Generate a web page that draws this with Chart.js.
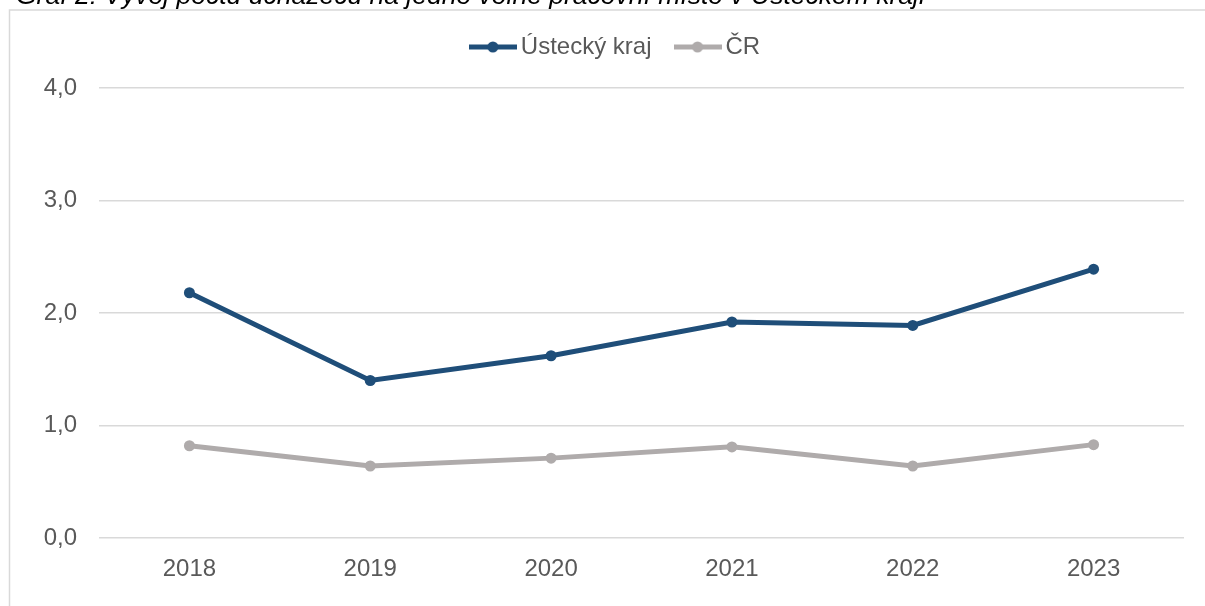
<!DOCTYPE html>
<html lang="cs">
<head>
<meta charset="utf-8">
<title>Graf 2</title>
<script src="https://cdn.jsdelivr.net/npm/chart.js@4/dist/chart.umd.min.js"></script>
<style>
    html, body { margin: 0; padding: 0; background: #fff; overflow: hidden; }
    .chart-box { position: relative; width: 1205px; height: 606px; }
</style>
</head>
<body>
<div class="chart-box"><canvas id="mainChart"></canvas></div>
<script>
// Chart data
const years = ['2018', '2019', '2020', '2021', '2022', '2023'];
const usteckyKraj = [2.18, 1.40, 1.62, 1.92, 1.89, 2.39];
const ceskaRepublika = [0.82, 0.64, 0.71, 0.81, 0.64, 0.83];
const yTicks = [0, 1, 2, 3, 4];

const titleText = 'Graf 2: Vývoj počtu uchazečů na jedno volné pracovní místo v Ústeckém kraji';
const fontFamily = '"Liberation Sans", Arial, sans-serif';
const textColor = '#595959';
const gridColor = '#d9d9d9';
const blue = '#1f4e79';
const gray = '#afabab';

// Legend icon: short line with a dot in the middle (like Excel)
function makeLegendIcon(color) {
    const c = document.createElement('canvas');
    c.width = 48;
    c.height = 12;
    const ctx = c.getContext('2d');
    ctx.strokeStyle = color;
    ctx.lineWidth = 5;
    ctx.beginPath();
    ctx.moveTo(0, 6);
    ctx.lineTo(48, 6);
    ctx.stroke();
    ctx.fillStyle = color;
    ctx.beginPath();
    ctx.arc(24, 6, 5.5, 0, Math.PI * 2);
    ctx.fill();
    return c;
}

// Frame + cut-off caption above the chart
const framePlugin = {
    id: 'frame',
    beforeDraw(chart) {
        const ctx = chart.ctx;
        ctx.save();
        ctx.strokeStyle = gridColor;
        ctx.lineWidth = 1.5;
        ctx.strokeRect(9.5, 10, 1400, 800);
        ctx.restore();
    },
    afterDraw(chart) {
        const ctx = chart.ctx;
        ctx.save();
        ctx.font = 'italic 26.5px ' + fontFamily;
        ctx.fillStyle = '#000';
        ctx.textBaseline = 'alphabetic';
        ctx.fillText(titleText, 16, 4);
        ctx.restore();
    }
};

// Legend: fixed height so the plot starts where the reference does,
// and nudged so it is centred like the original
const legendPlacePlugin = {
    id: 'legendPlace',
    beforeInit(chart) {
        const origFit = chart.legend.fit;
        chart.legend.fit = function () {
            origFit.bind(chart.legend)();
            this.height = 83;
        };
    },
    afterLayout(chart) {
        chart.legend.left = 53;
    }
};

const ctx = document.getElementById('mainChart');
const chart = new Chart(ctx, {
    type: 'line',
    data: {
        labels: years,
        datasets: [
            {
                label: 'Ústecký kraj',
                data: usteckyKraj,
                borderColor: blue,
                backgroundColor: blue,
                pointBackgroundColor: blue,
                pointBorderColor: blue,
                borderWidth: 5,
                pointRadius: 5.5,
                pointBorderWidth: 0,
                tension: 0
            },
            {
                label: 'ČR',
                data: ceskaRepublika,
                borderColor: gray,
                backgroundColor: gray,
                pointBackgroundColor: gray,
                pointBorderColor: gray,
                borderWidth: 5,
                pointRadius: 5.5,
                pointBorderWidth: 0,
                tension: 0
            }
        ]
    },
    options: {
        responsive: true,
        maintainAspectRatio: false,
        animation: false,
        devicePixelRatio: 1,
        layout: {
            padding: { left: 0, right: 21, top: 5, bottom: 0 }
        },
        plugins: {
            tooltip: { enabled: false },
            legend: {
                position: 'top',
                align: 'center',
                labels: {
                    color: textColor,
                    font: { family: fontFamily, size: 24 },
                    usePointStyle: true,
                    pointStyleWidth: 32,
                    padding: 30,
                    generateLabels(chart) {
                        const items = Chart.defaults.plugins.legend.labels.generateLabels(chart);
                        items.forEach(item => {
                            const ds = chart.data.datasets[item.datasetIndex];
                            item.pointStyle = makeLegendIcon(ds.borderColor);
                        });
                        return items;
                    }
                }
            }
        },
        scales: {
            x: {
                offset: true,
                grid: { display: false },
                border: { display: false },
                ticks: {
                    color: textColor,
                    font: { family: fontFamily, size: 24 },
                    padding: 9,
                    maxRotation: 0
                },
                afterFit(scale) { scale.height = 68; }
            },
            y: {
                min: 0,
                max: 4,
                grid: { color: gridColor, lineWidth: 1.5, drawTicks: false },
                border: { display: false },
                afterBuildTicks(scale) {
                    scale.ticks = yTicks.map(v => ({ value: v }));
                },
                ticks: {
                    color: textColor,
                    font: { family: fontFamily, size: 24 },
                    padding: 22,
                    callback: v => v.toFixed(1).replace('.', ',')
                },
                afterFit(scale) { scale.width = 99; }
            }
        }
    },
    plugins: [framePlugin, legendPlacePlugin]
});
</script>
</body>
</html>
